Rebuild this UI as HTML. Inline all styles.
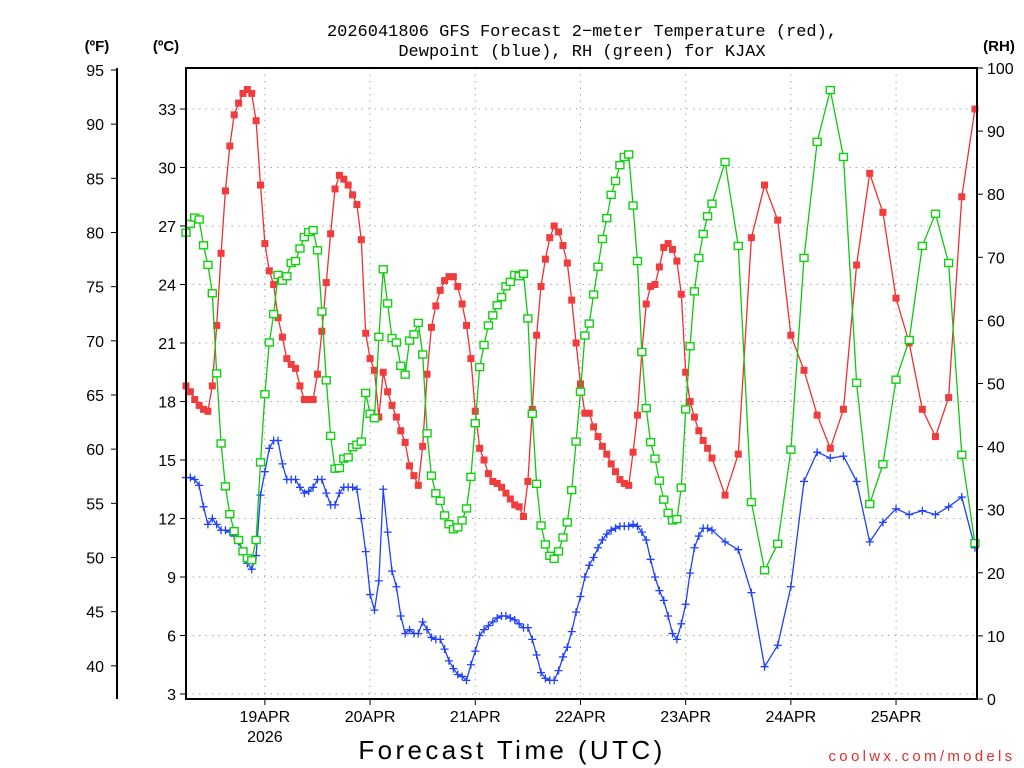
<!DOCTYPE html>
<html><head><meta charset="utf-8"><style>
html,body{margin:0;padding:0;background:#fff;}
svg{display:block;font-family:"Liberation Sans",sans-serif;}
</style></head><body>
<svg id="chart" width="1024" height="768" viewBox="0 0 1024 768" xmlns="http://www.w3.org/2000/svg">
<rect x="0" y="0" width="1024" height="768" fill="#fff"/>
<g id="grid"></g>
<g id="axes"></g>
<g id="series"></g>
<rect x="186" y="68" width="791" height="631" fill="none" stroke="#000" stroke-width="2"/>
<text x="582" y="36" text-anchor="middle" font-size="17" font-family="Liberation Mono, monospace" fill="#000">2026041806 GFS Forecast 2−meter Temperature (red),</text>
<text x="582" y="56" text-anchor="middle" font-size="17" font-family="Liberation Mono, monospace" fill="#000">Dewpoint (blue), RH (green) for KJAX</text>
<text x="97" y="51" text-anchor="middle" font-size="15" font-weight="bold">(ºF)</text>
<text x="166" y="51" text-anchor="middle" font-size="15" font-weight="bold">(ºC)</text>
<text x="999" y="51" text-anchor="middle" font-size="15" font-weight="bold">(RH)</text>
<text x="512" y="759" text-anchor="middle" font-size="26" letter-spacing="3.4">Forecast Time (UTC)</text>
<text x="922" y="761" text-anchor="middle" font-size="15" fill="#e03030" letter-spacing="3.3">coolwx.com/models</text>
</svg>
<script>
const hoursHourly = 120;
const hoursStep3End = 180;
const tempC = [18.8,18.5,18.1,17.8,17.6,17.5,18.8,21.9,25.6,28.8,
31.1,32.7,33.3,33.8,34.0,33.8,32.4,29.1,26.1,24.7,
24.0,22.3,21.3,20.2,19.9,19.7,18.8,18.1,18.1,18.1,
19.4,21.6,24.1,26.6,28.9,29.6,29.4,29.1,28.6,28.1,
26.3,21.5,20.2,19.6,17.2,19.5,18.5,17.8,17.2,16.5,
15.9,14.7,14.2,13.7,15.7,19.4,21.8,22.9,23.7,24.2,
24.4,24.4,23.9,23.0,21.9,20.2,17.5,15.6,15.0,14.3,
13.9,13.8,13.6,13.3,13.0,12.7,12.6,12.1,13.9,17.6,
21.4,23.9,25.3,26.4,27.0,26.7,26.0,25.1,23.2,21.0,
18.9,17.4,17.4,16.7,16.2,15.7,15.3,14.8,14.4,14.0,
13.8,13.7,15.4,17.3,20.5,23.0,23.9,24.0,24.9,25.9,
26.1,25.8,25.2,23.5,19.5,18.0,17.2,16.5,16.0,15.6,15.1,
13.2,15.3,26.4,29.1,27.3,21.4,19.6,17.3,15.6,17.6,25.0,29.7,27.7,23.3,21.0,17.6,16.2,18.2,28.5,33.0];
const dewC = [14.1,14.1,14.0,13.7,12.6,11.7,12.0,11.7,11.4,11.4,
11.3,11.1,10.8,10.3,9.7,9.4,10.1,13.2,14.4,15.6,
16.0,16.0,14.8,14.0,14.0,14.0,13.6,13.3,13.4,13.6,
14.0,14.0,13.3,12.7,12.7,13.3,13.6,13.6,13.6,13.5,
12.0,10.3,8.1,7.3,8.8,13.5,11.3,9.3,8.5,7.0,
6.1,6.3,6.1,6.1,6.7,6.3,5.9,5.8,5.8,5.3,
4.7,4.3,4.0,3.9,3.7,4.5,5.2,6.0,6.3,6.5,
6.7,6.9,7.0,7.0,6.9,6.8,6.6,6.4,6.4,5.8,
5.0,4.1,3.8,3.7,3.7,4.2,4.9,5.4,6.2,7.2,
8.0,9.0,9.6,10.0,10.5,10.9,11.2,11.4,11.5,11.6,
11.6,11.6,11.7,11.6,11.3,10.9,9.9,9.0,8.3,7.8,
7.0,6.1,5.8,6.6,7.6,9.2,10.5,11.1,11.5,11.5,11.4,
10.8,10.4,8.2,4.4,5.5,8.5,13.9,15.4,15.1,15.2,13.9,10.8,11.8,12.5,12.2,12.4,12.2,12.6,13.1,10.5];
const rhPct = [73.9,75.3,76.3,76.0,71.9,68.8,64.3,51.6,40.5,33.7,
29.3,26.6,25.2,23.4,22.3,22.0,25.2,37.5,48.3,56.5,
61.0,67.2,66.3,67.0,69.1,69.4,71.4,73.2,74.0,74.3,
71.1,61.4,50.5,41.7,36.5,36.6,38.1,38.3,39.9,40.3,
40.8,48.5,45.2,44.5,57.4,68.1,62.7,57.2,56.5,52.8,
51.4,56.8,57.8,59.6,54.6,42.1,35.4,32.6,31.4,29.1,
27.7,26.9,27.2,28.3,30.2,35.2,43.7,52.6,56.1,59.2,
60.8,62.4,63.7,65.4,66.1,67.2,67.0,67.4,60.3,45.2,
34.1,27.5,24.5,22.7,22.2,23.4,25.6,28.0,33.1,40.8,
48.7,57.6,59.5,64.1,68.5,72.9,76.2,79.9,82.1,84.6,
85.9,86.3,78.2,69.4,55.0,46.1,40.7,38.1,34.6,31.6,
29.5,28.3,28.5,33.5,45.9,55.9,64.6,69.9,73.7,76.5,78.5,
85.1,71.8,31.2,20.4,24.6,39.5,69.9,88.3,96.5,85.9,50.1,30.9,37.2,50.6,56.9,71.8,76.9,69.1,38.7,24.7];
const dayLabels = ["19APR","20APR","21APR","22APR","23APR","24APR","25APR"];
const dayHours = [18,42,66,90,114,138,162];
const cTicks = [3,6,9,12,15,18,21,24,27,30,33];
const fTicks = [40,45,50,55,60,65,70,75,80,85,90,95];
const rhTicks = [0,10,20,30,40,50,60,70,80,90,100];

const NS="http://www.w3.org/2000/svg";
function mk(tag, attrs, parent){const e=document.createElementNS(NS,tag);for(const k in attrs)e.setAttribute(k,attrs[k]);parent.appendChild(e);return e;}
const xOf = h => 186 + h*4.383;
const yC = c => 694 - (c-3)*19.5;
const yRH = r => 699 - r*6.31;
const hours = [];
for(let h=0;h<=hoursHourly;h++)hours.push(h);
for(let h=hoursHourly+3;h<=hoursStep3End;h+=3)hours.push(h);

const grid=document.getElementById('grid'), axes=document.getElementById('axes'), series=document.getElementById('series');
cTicks.forEach(c=>{
  const l=mk('line',{x1:186,x2:977,y1:yC(c),y2:yC(c),stroke:'#aaa','stroke-width':1,'stroke-dasharray':'1.5 5'},grid);
  
  
  const t=mk('line',{x1:180,x2:186,y1:yC(c),y2:yC(c),stroke:'#000'},axes);
  
  
  const tx=mk('text',{x:176,y:yC(c)+6,'text-anchor':'end','font-size':16},axes);
  tx.textContent=c;
  
  
});
const fl=mk('line',{x1:117,x2:117,y1:68,y2:699,stroke:'#000','stroke-width':2},axes);


fTicks.forEach(f=>{
  const y=yC((f-32)/1.8);
  const t=mk('line',{x1:111,x2:117,y1:y,y2:y,stroke:'#000'},axes);
  
  
  const tx=mk('text',{x:104,y:y+6,'text-anchor':'end','font-size':16},axes);
  tx.textContent=f;
  
  
});
rhTicks.forEach(r=>{
  const t=mk('line',{x1:977,x2:983,y1:yRH(r),y2:yRH(r),stroke:'#000'},axes);
  
  
  const tx=mk('text',{x:987,y:yRH(r)+6,'font-size':16},axes);
  tx.textContent=r;
  
  
});
dayHours.forEach((h,i)=>{
  const x=xOf(h);
  const g=mk('line',{x1:x,x2:x,y1:68,y2:699,stroke:'#aaa','stroke-width':1,'stroke-dasharray':'1.5 5'},grid);
  
  
  const t=mk('line',{x1:x,x2:x,y1:699,y2:705,stroke:'#000'},axes);
  
  
  const tx=mk('text',{x:x,y:722,'text-anchor':'middle','font-size':16},axes);
  tx.textContent=dayLabels[i];
  
  
});
const yr=mk('text',{x:xOf(dayHours[0]),y:742,'text-anchor':'middle','font-size':16},axes);
yr.textContent="2026";



function line(vals, yf, color, name){
  const pts=vals.map((v,i)=>xOf(hours[i]).toFixed(1)+','+yf(v).toFixed(1)).join(' ');
  const p=mk('polyline',{points:pts,fill:'none',stroke:color,'stroke-width':1.3},series);
  
  
}
line(tempC,yC,'#f03030','temperature-line');
tempC.forEach((v,i)=>{
  const r=mk('rect',{x:xOf(hours[i])-3.5,y:yC(v)-3.5,width:7,height:7,fill:'#f03c3c'},series);
  
  
});
line(dewC,yC,'#2040ff','dewpoint-line');
dewC.forEach((v,i)=>{
  const x=xOf(hours[i]), y=yC(v);
  const p=mk('path',{d:`M${x-4} ${y}H${x+4}M${x} ${y-4}V${y+4}`,stroke:'#2040ff','stroke-width':1.3,fill:'none'},series);
  
  
});
line(rhPct,yRH,'#10c810','rh-line');
rhPct.forEach((v,i)=>{
  const r=mk('rect',{x:xOf(hours[i])-4,y:yRH(v)-3.5,width:8,height:7,fill:'#fff',stroke:'#10d010','stroke-width':1.4},series);
  
  
});
</script>
</body></html>
